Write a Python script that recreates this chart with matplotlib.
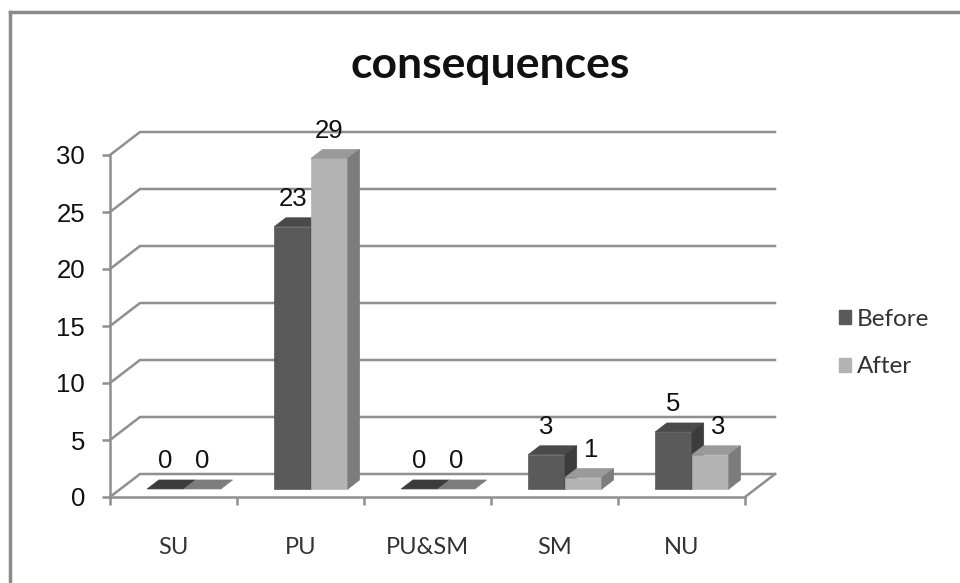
import numpy as np
import matplotlib.pyplot as plt
from matplotlib.patches import Polygon, Patch
from matplotlib.lines import Line2D

# Dane
kategorie = ['SU', 'PU', 'PU&SM', 'SM', 'NU']
przed = [0, 23, 0, 3, 5]
po = [0, 29, 0, 1, 3]
serie = ['Before', 'After']
yticks = [0, 5, 10, 15, 20, 25, 30]

# Kolory scian slupkow: przod, gora, bok
kolory = {
    'Before': ('#5a5a5a', '#4a4a4a', '#3c3c3c'),
    'After': ('#b3b3b3', '#9a9a9a', '#7c7c7c'),
}
szary = '#8f8f8f'

fig = plt.figure(figsize=(9.6, 5.83), dpi=100)
W, H = 960, 583
ax = fig.add_axes([110 / W, (H - 497) / H, 635 / W, 342 / H])
ax.set_xlim(0, len(kategorie))
ax.set_ylim(0, 30)
ax.patch.set_alpha(0)

# glebokosc wykresu "3D" w jednostkach danych
DX = 30 / 127
DY = 23 / 11.4
f0, f1 = 0.35, 0.74
szer = 0.29

# sciana tylna i podloga
for t in yticks:
    ax.plot([0, DX, len(kategorie) + DX], [t, t + DY, t + DY],
            color=szary, lw=1.8, clip_on=False, zorder=1)
ax.plot([len(kategorie), len(kategorie) + DX], [0, DY], color=szary, lw=1.8,
        clip_on=False, zorder=1)


def slupek(x0, v, nazwa, dx_tekst=0.0):
    przod, gora, bok = kolory[nazwa]
    x1 = x0 + szer
    a = (f0 * DX, f0 * DY)
    b = (f1 * DX, f1 * DY)
    sciany = [
        ([(x0 + a[0], a[1]), (x1 + a[0], a[1]), (x1 + a[0], v + a[1]), (x0 + a[0], v + a[1])], przod),
        ([(x0 + a[0], v + a[1]), (x1 + a[0], v + a[1]), (x1 + b[0], v + b[1]), (x0 + b[0], v + b[1])], gora),
        ([(x1 + a[0], a[1]), (x1 + b[0], b[1]), (x1 + b[0], v + b[1]), (x1 + a[0], v + a[1])], bok),
    ]
    if v == 0:
        sciany = [(sciany[1][0], bok)]
    for pts, c in sciany:
        ax.add_patch(Polygon(pts, closed=True, facecolor=c, edgecolor=c, lw=0.5,
                             clip_on=False, zorder=3))
    ax.text((x0 + x1) / 2 + a[0] + dx_tekst, v + b[1] + 0.6, str(v), ha='center', va='bottom',
            fontsize=18.5, family='Liberation Sans', color='#111111', zorder=4)


for i in range(len(kategorie)):
    srodek = i + 0.5
    slupek(srodek - szer, przed[i], 'Before')
    # etykiety niskich slupkow "After" odsuniete w prawo, zeby nie nachodzily na sasiada
    przesun = 0.06 if 0 < po[i] < przed[i] else 0.0
    slupek(srodek, po[i], 'After', przesun)

# osie
for s in ['top', 'right']:
    ax.spines[s].set_visible(False)
for s in ['left', 'bottom']:
    ax.spines[s].set_color(szary)
    ax.spines[s].set_linewidth(1.8)
ax.set_yticks(yticks)
ax.set_xticks(np.arange(len(kategorie) + 1))
ax.set_xticklabels([])
ax.set_xticks(np.arange(len(kategorie)) + 0.5, minor=True)
ax.set_xticklabels(kategorie, minor=True, family='Lato', fontsize=17, color='#333333')
ax.tick_params(axis='x', which='major', direction='out', length=6, width=1.8, color=szary)
ax.tick_params(axis='x', which='minor', length=0, pad=29)
ax.tick_params(axis='y', direction='out', length=6, width=1.8, color=szary, pad=12,
               labelsize=18.5, labelcolor='#111111')
for lab in ax.get_yticklabels():
    lab.set_family('Liberation Sans')

fig.text(490 / W, 1 - 78 / H, 'consequences', ha='center', va='baseline',
         fontsize=32, fontweight='bold', family='Lato', color='#111111')

uchwyty = [Patch(facecolor=kolory[n][0], edgecolor=kolory[n][0]) for n in serie]
fig.legend(uchwyty, serie, loc='center left', bbox_to_anchor=(817 / W, 1 - 343 / H),
           frameon=False, handlelength=0.5, handleheight=0.5, handletextpad=0.25,
           labelspacing=1.1, prop={'family': 'Lato', 'size': 17.5}, labelcolor='#333333')

# ramka wykresu
fig.add_artist(Line2D([10 / W, 1], [1 - 12 / H, 1 - 12 / H], transform=fig.transFigure,
                      color='#8a8a8a', lw=2.5))
fig.add_artist(Line2D([10 / W, 10 / W], [0, 1 - 12 / H], transform=fig.transFigure,
                      color='#8a8a8a', lw=2.5))

fig.savefig('out.png', dpi=100, facecolor='white')
